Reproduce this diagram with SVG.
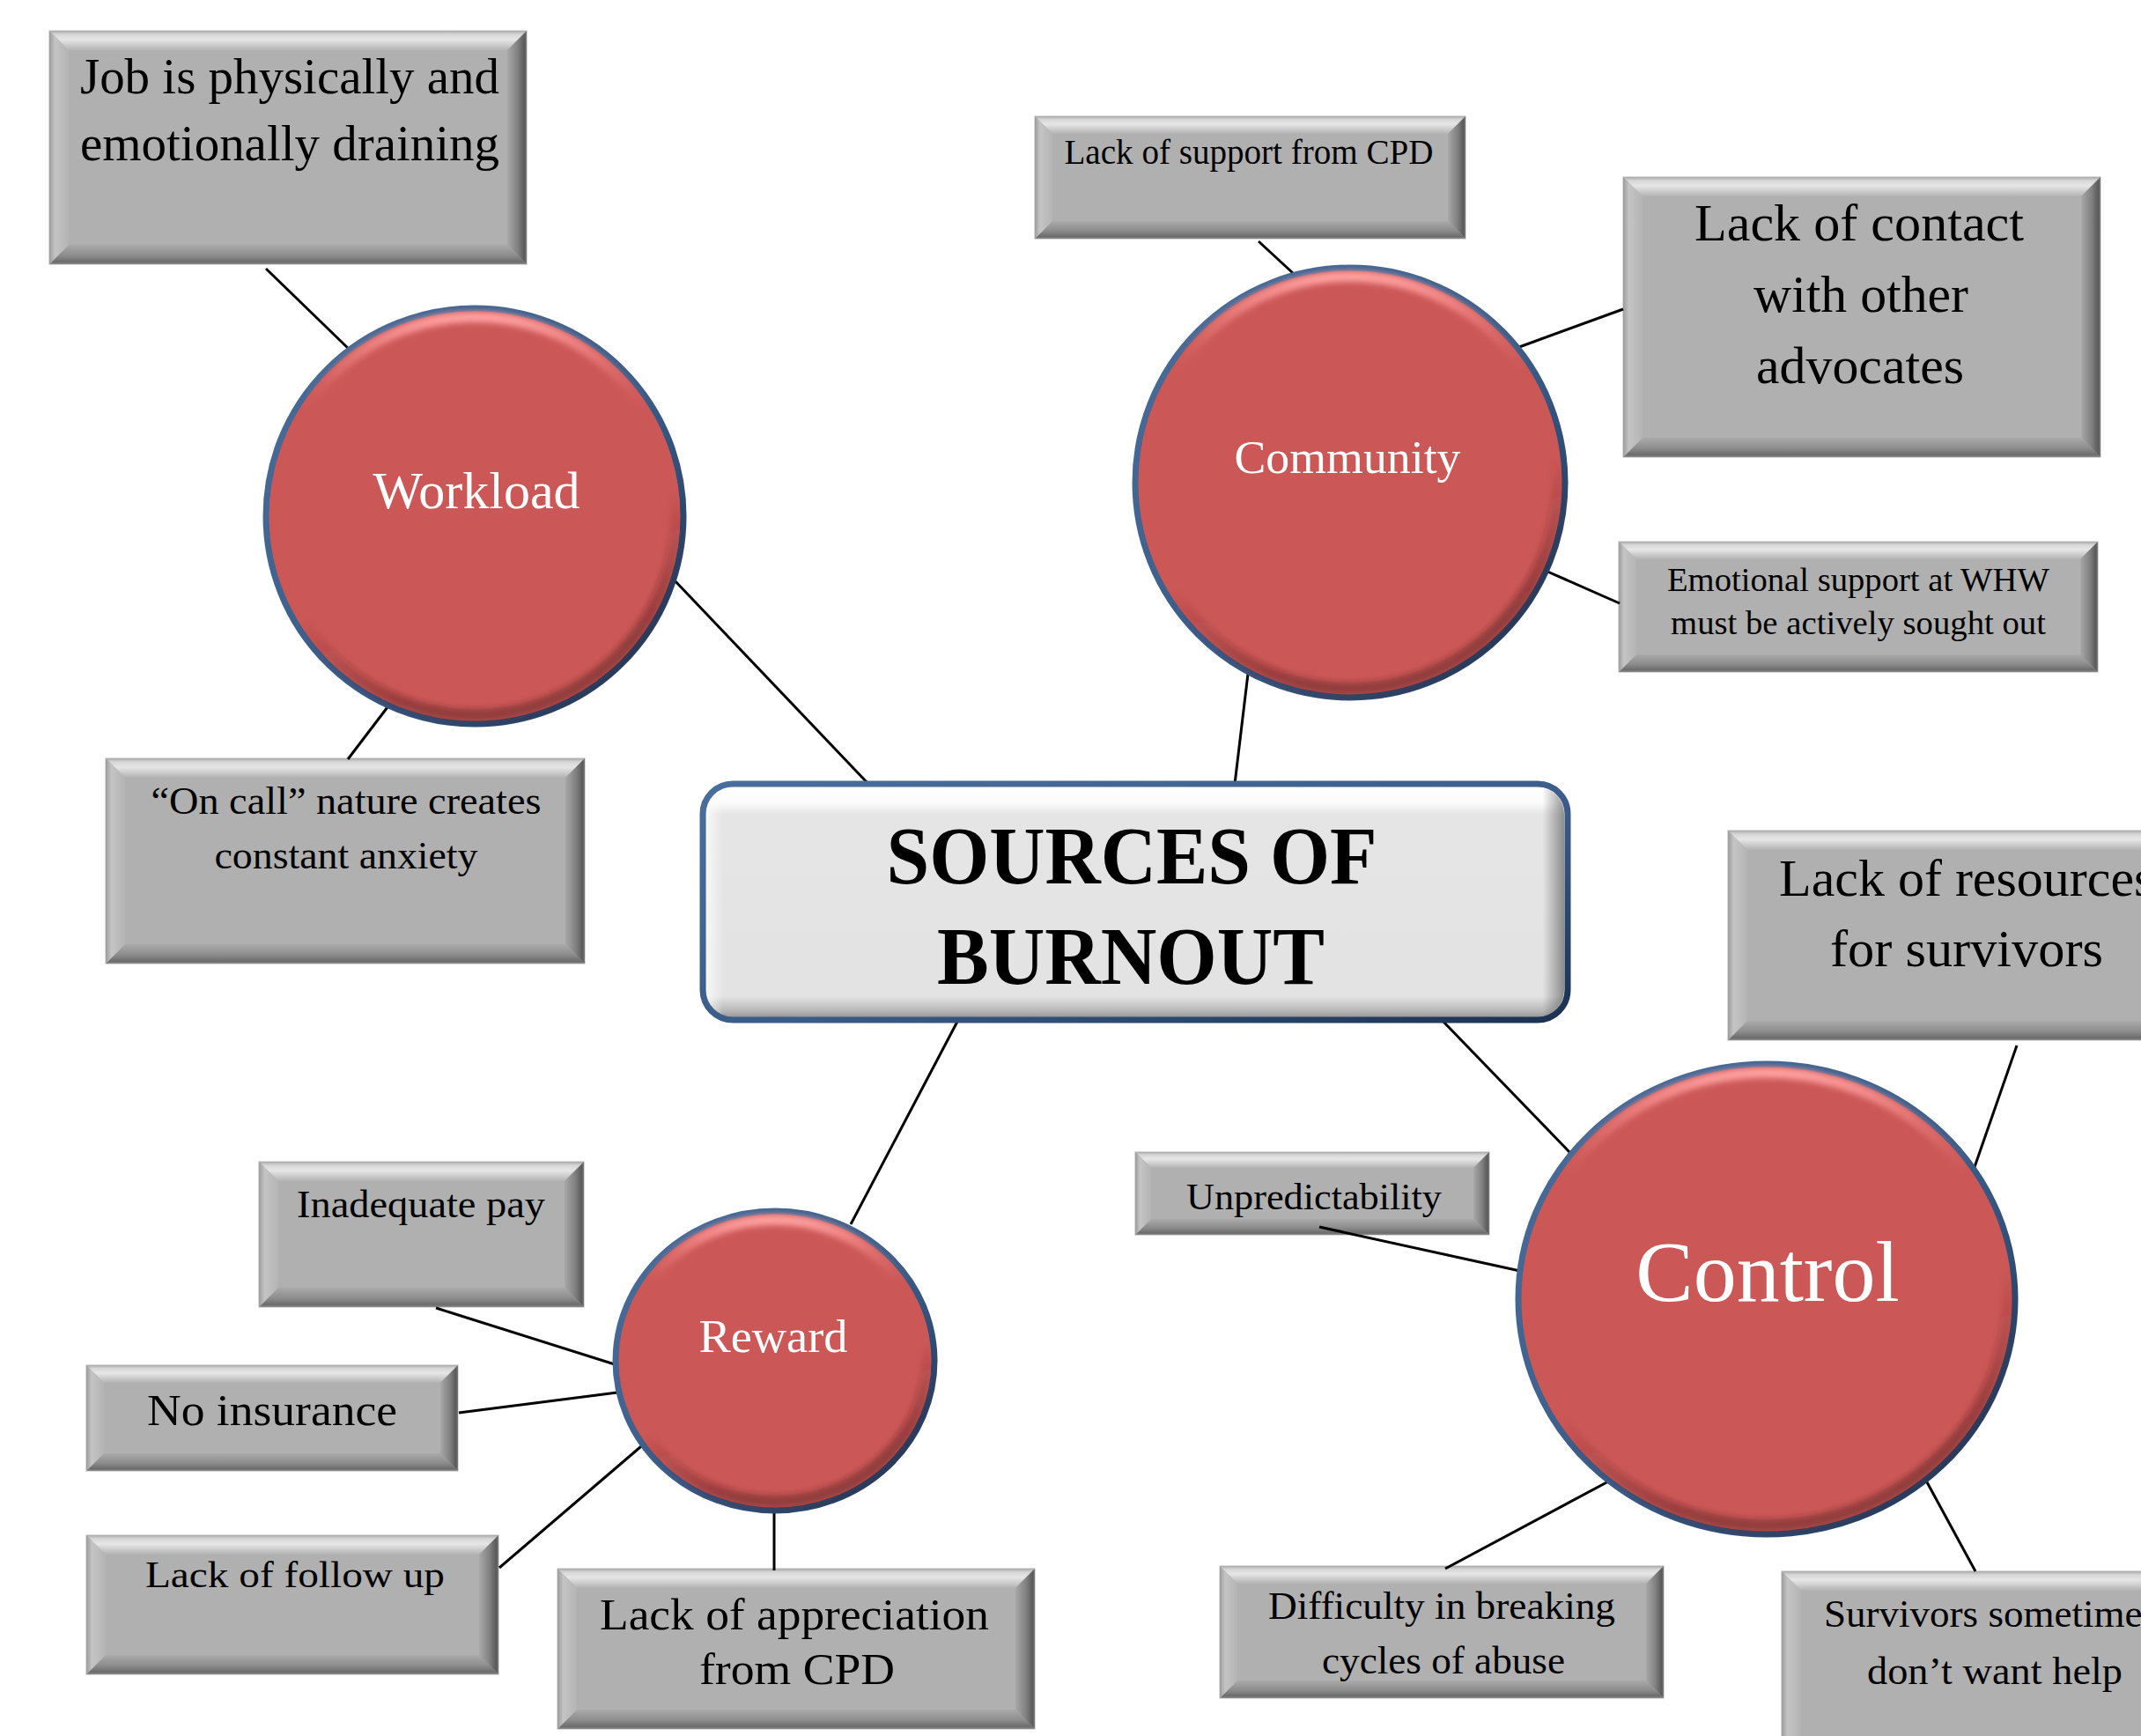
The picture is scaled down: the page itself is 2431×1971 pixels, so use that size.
<svg xmlns="http://www.w3.org/2000/svg" width="2431" height="1971" viewBox="0 0 2431 1971">
<defs>
<linearGradient id="gT" x1="0" y1="0" x2="0" y2="1"><stop offset="0" stop-color="#a9a9a9"/><stop offset="0.18" stop-color="#d6d6d6"/><stop offset="0.45" stop-color="#e6e6e6"/><stop offset="1" stop-color="#b3b3b3"/></linearGradient>
<linearGradient id="gB" x1="0" y1="0" x2="0" y2="1"><stop offset="0" stop-color="#aaaaaa"/><stop offset="0.55" stop-color="#8c8c8c"/><stop offset="0.88" stop-color="#6c6c6c"/><stop offset="1" stop-color="#8e8e8e"/></linearGradient>
<linearGradient id="gL" x1="0" y1="0" x2="1" y2="0"><stop offset="0" stop-color="#9c9c9c"/><stop offset="0.3" stop-color="#c4c4c4"/><stop offset="1" stop-color="#b4b4b4"/></linearGradient>
<linearGradient id="gR" x1="0" y1="0" x2="1" y2="0"><stop offset="0" stop-color="#a8a8a8"/><stop offset="0.55" stop-color="#808080"/><stop offset="0.88" stop-color="#5a5a5a"/><stop offset="1" stop-color="#7c7c7c"/></linearGradient>
<linearGradient id="cBD" x1="0" y1="0" x2="1" y2="1"><stop offset="0" stop-color="#4a6e9c"/><stop offset="0.55" stop-color="#3b5c88"/><stop offset="1" stop-color="#1b3150"/></linearGradient>
<linearGradient id="cHL" x1="0" y1="0" x2="0" y2="1"><stop offset="0" stop-color="#ffa0a0" stop-opacity="1"/><stop offset="0.08" stop-color="#f48888" stop-opacity="0.75"/><stop offset="0.22" stop-color="#e07070" stop-opacity="0"/></linearGradient>
<linearGradient id="cSH" x1="0" y1="0" x2="0.35" y2="1"><stop offset="0.7" stop-color="#5a1e20" stop-opacity="0"/><stop offset="1" stop-color="#5a1e20" stop-opacity="0.5"/></linearGradient>
<linearGradient id="ctrF" x1="0" y1="0" x2="0" y2="1"><stop offset="0" stop-color="#ffffff"/><stop offset="0.08" stop-color="#fbfbfb"/><stop offset="0.13" stop-color="#e5e5e5"/><stop offset="0.9" stop-color="#e3e3e3"/><stop offset="0.96" stop-color="#b8b8b8"/><stop offset="1" stop-color="#8a8a8a"/></linearGradient>
<linearGradient id="ctrS" x1="0" y1="0" x2="1" y2="0"><stop offset="0" stop-color="#ffffff" stop-opacity="0.7"/><stop offset="0.02" stop-color="#ffffff" stop-opacity="0"/><stop offset="0.975" stop-color="#333333" stop-opacity="0"/><stop offset="1" stop-color="#333333" stop-opacity="0.5"/></linearGradient>
<filter id="soft" x="-10%" y="-10%" width="120%" height="120%"><feGaussianBlur stdDeviation="3"/></filter>
<style>
.face{fill:#b0b0b0;stroke:#cfcfcf;stroke-width:1.5}
.bt{fill:url(#gT)}.bb{fill:url(#gB)}.bl{fill:url(#gL)}.br{fill:url(#gR)}
.circ{fill:#cb5857;stroke:url(#cBD);stroke-width:7}
.hl{fill:none;stroke:url(#cHL);stroke-width:12;filter:url(#soft)}
.sh{fill:none;stroke:url(#cSH);stroke-width:14;filter:url(#soft)}
.conn line{stroke:#000;stroke-width:3}
.t{font-family:"Liberation Serif","Times New Roman",serif;fill:#000}
.w{font-family:"Liberation Serif","Times New Roman",serif;fill:#fff}
.c{text-anchor:middle}
</style>
</defs>
<rect width="2431" height="1971" fill="#ffffff"/>

<g id="job">
<rect class="face" x="56" y="35" width="542" height="265"/>
<polygon class="bt" points="56,35 598,35 576,57 78,57"/>
<polygon class="bb" points="56,300 598,300 576,278 78,278"/>
<polygon class="bl" points="56,35 78,57 78,278 56,300"/>
<polygon class="br" points="598,35 576,57 576,278 598,300"/>
<text class="t c" x="329" y="106" font-size="57" textLength="476" lengthAdjust="spacingAndGlyphs">Job is physically and</text>
<text class="t c" x="329" y="182" font-size="57" textLength="476" lengthAdjust="spacingAndGlyphs">emotionally draining</text>
</g>

<g id="oncall">
<rect class="face" x="120" y="861" width="544" height="233"/>
<polygon class="bt" points="120,861 664,861 642,883 142,883"/>
<polygon class="bb" points="120,1094 664,1094 642,1072 142,1072"/>
<polygon class="bl" points="120,861 142,883 142,1072 120,1094"/>
<polygon class="br" points="664,861 642,883 642,1072 664,1094"/>
<text class="t c" x="393" y="924" font-size="44" textLength="443" lengthAdjust="spacingAndGlyphs">“On call”  nature  creates</text>
<text class="t c" x="393" y="986" font-size="44" textLength="299" lengthAdjust="spacingAndGlyphs">constant  anxiety</text>
</g>

<g id="cpd">
<rect class="face" x="1175" y="132" width="489" height="139"/>
<polygon class="bt" points="1175,132 1664,132 1644,152 1195,152"/>
<polygon class="bb" points="1175,271 1664,271 1644,251 1195,251"/>
<polygon class="bl" points="1175,132 1195,152 1195,251 1175,271"/>
<polygon class="br" points="1664,132 1644,152 1644,251 1664,271"/>
<text class="t c" x="1418" y="186" font-size="39" textLength="419" lengthAdjust="spacingAndGlyphs">Lack of support from CPD</text>
</g>

<g id="contact">
<rect class="face" x="1843" y="201" width="542" height="318"/>
<polygon class="bt" points="1843,201 2385,201 2363,223 1865,223"/>
<polygon class="bb" points="1843,519 2385,519 2363,497 1865,497"/>
<polygon class="bl" points="1843,201 1865,223 1865,497 1843,519"/>
<polygon class="br" points="2385,201 2363,223 2363,497 2385,519"/>
<text class="t c" x="2111" y="273" font-size="59" textLength="374" lengthAdjust="spacingAndGlyphs">Lack of contact</text>
<text class="t c" x="2113" y="354" font-size="59" textLength="244" lengthAdjust="spacingAndGlyphs">with other</text>
<text class="t c" x="2112" y="435" font-size="59" textLength="236" lengthAdjust="spacingAndGlyphs">advocates</text>
</g>

<g id="emotional">
<rect class="face" x="1838" y="615" width="544" height="148"/>
<polygon class="bt" points="1838,615 2382,615 2362,635 1858,635"/>
<polygon class="bb" points="1838,763 2382,763 2362,743 1858,743"/>
<polygon class="bl" points="1838,615 1858,635 1858,743 1838,763"/>
<polygon class="br" points="2382,615 2362,635 2362,743 2382,763"/>
<text class="t c" x="2110" y="671" font-size="38" textLength="434" lengthAdjust="spacingAndGlyphs">Emotional  support at WHW</text>
<text class="t c" x="2110" y="720" font-size="38" textLength="426" lengthAdjust="spacingAndGlyphs">must  be actively  sought out</text>
</g>

<g id="resources">
<rect class="face" x="1962" y="943" width="600" height="238"/>
<polygon class="bt" points="1962,943 2562,943 2540,965 1984,965"/>
<polygon class="bb" points="1962,1181 2562,1181 2540,1159 1984,1159"/>
<polygon class="bl" points="1962,943 1984,965 1984,1159 1962,1181"/>
<text class="t" x="2020" y="1017" font-size="60">Lack of resources</text>
<text class="t" x="2078" y="1097" font-size="60" textLength="310" lengthAdjust="spacingAndGlyphs">for survivors</text>
</g>

<g id="unpredictability">
<rect class="face" x="1289" y="1308" width="402" height="94"/>
<polygon class="bt" points="1289,1308 1691,1308 1673,1326 1307,1326"/>
<polygon class="bb" points="1289,1402 1691,1402 1673,1384 1307,1384"/>
<polygon class="bl" points="1289,1308 1307,1326 1307,1384 1289,1402"/>
<polygon class="br" points="1691,1308 1673,1326 1673,1384 1691,1402"/>
<text class="t c" x="1492" y="1373" font-size="43" textLength="290" lengthAdjust="spacingAndGlyphs">Unpredictability</text>
</g>

<g id="difficulty">
<rect class="face" x="1385" y="1778" width="504" height="150"/>
<polygon class="bt" points="1385,1778 1889,1778 1869,1798 1405,1798"/>
<polygon class="bb" points="1385,1928 1889,1928 1869,1908 1405,1908"/>
<polygon class="bl" points="1385,1778 1405,1798 1405,1908 1385,1928"/>
<polygon class="br" points="1889,1778 1869,1798 1869,1908 1889,1928"/>
<text class="t c" x="1637" y="1838" font-size="44" textLength="394" lengthAdjust="spacingAndGlyphs">Difficulty  in breaking</text>
<text class="t c" x="1639" y="1900" font-size="44" textLength="276" lengthAdjust="spacingAndGlyphs">cycles of abuse</text>
</g>

<g id="survivors">
<rect class="face" x="2023" y="1784" width="600" height="300"/>
<polygon class="bt" points="2023,1784 2623,1784 2601,1806 2045,1806"/>
<polygon class="bl" points="2023,1784 2045,1806 2045,2084 2023,2084"/>
<text class="t" x="2071" y="1847" font-size="45" textLength="379" lengthAdjust="spacingAndGlyphs">Survivors  sometimes</text>
<text class="t" x="2120" y="1912" font-size="45" textLength="290" lengthAdjust="spacingAndGlyphs">don’t  want  help</text>
</g>

<g id="inadequate">
<rect class="face" x="294" y="1319" width="369" height="165"/>
<polygon class="bt" points="294,1319 663,1319 641,1341 316,1341"/>
<polygon class="bb" points="294,1484 663,1484 641,1462 316,1462"/>
<polygon class="bl" points="294,1319 316,1341 316,1462 294,1484"/>
<polygon class="br" points="663,1319 641,1341 641,1462 663,1484"/>
<text class="t c" x="478" y="1382" font-size="44" textLength="282" lengthAdjust="spacingAndGlyphs">Inadequate  pay</text>
</g>

<g id="insurance">
<rect class="face" x="98" y="1550" width="422" height="120"/>
<polygon class="bt" points="98,1550 520,1550 500,1570 118,1570"/>
<polygon class="bb" points="98,1670 520,1670 500,1650 118,1650"/>
<polygon class="bl" points="98,1550 118,1570 118,1650 98,1670"/>
<polygon class="br" points="520,1550 500,1570 500,1650 520,1670"/>
<text class="t c" x="309" y="1618" font-size="50" textLength="284" lengthAdjust="spacingAndGlyphs">No insurance</text>
</g>

<g id="followup">
<rect class="face" x="98" y="1743" width="468" height="158"/>
<polygon class="bt" points="98,1743 566,1743 544,1765 120,1765"/>
<polygon class="bb" points="98,1901 566,1901 544,1879 120,1879"/>
<polygon class="bl" points="98,1743 120,1765 120,1879 98,1901"/>
<polygon class="br" points="566,1743 544,1765 544,1879 566,1901"/>
<text class="t c" x="335" y="1802" font-size="43" textLength="340" lengthAdjust="spacingAndGlyphs">Lack  of follow  up</text>
</g>

<g id="appreciation">
<rect class="face" x="633" y="1781" width="542" height="182"/>
<polygon class="bt" points="633,1781 1175,1781 1153,1803 655,1803"/>
<polygon class="bb" points="633,1963 1175,1963 1153,1941 655,1941"/>
<polygon class="bl" points="633,1781 655,1803 655,1941 633,1963"/>
<polygon class="br" points="1175,1781 1153,1803 1153,1941 1175,1963"/>
<text class="t c" x="902" y="1850" font-size="50" textLength="442" lengthAdjust="spacingAndGlyphs">Lack of appreciation</text>
<text class="t c" x="905" y="1912" font-size="50" textLength="222" lengthAdjust="spacingAndGlyphs">from CPD</text>
</g>

<g id="connectors" class="conn">
<line x1="302" y1="305" x2="400" y2="400"/>
<line x1="446" y1="795" x2="395" y2="862"/>
<line x1="765" y1="658" x2="986" y2="890"/>
<line x1="1429" y1="274" x2="1468" y2="310"/>
<line x1="1725" y1="394" x2="1843" y2="351"/>
<line x1="1755" y1="648" x2="1839" y2="685"/>
<line x1="1417" y1="765" x2="1402" y2="890"/>
<line x1="1088" y1="1158" x2="966" y2="1390"/>
<line x1="1637" y1="1158" x2="1784" y2="1310"/>
<line x1="2290" y1="1187" x2="2242" y2="1325"/>
<line x1="1498" y1="1393" x2="1726" y2="1443"/>
<line x1="1845" y1="1672" x2="1641" y2="1781"/>
<line x1="2181" y1="1670" x2="2243" y2="1784"/>
<line x1="495" y1="1485" x2="701" y2="1550"/>
<line x1="521" y1="1604" x2="701" y2="1581"/>
<line x1="567" y1="1780" x2="734" y2="1637"/>
<line x1="879" y1="1712" x2="879" y2="1783"/>
</g>

<g id="workload">
<ellipse class="circ" cx="539" cy="586" rx="237" ry="236"/>
<ellipse class="hl" cx="539" cy="588" rx="229" ry="228"/>
<ellipse class="sh" cx="539" cy="584" rx="229" ry="228"/>
<text class="w c" x="541" y="577" font-size="60">Workload</text>
</g>

<g id="community">
<ellipse class="circ" cx="1533" cy="548" rx="244" ry="244"/>
<ellipse class="hl" cx="1533" cy="550" rx="236" ry="236"/>
<ellipse class="sh" cx="1533" cy="546" rx="236" ry="236"/>
<text class="w c" x="1530" y="537" font-size="53" textLength="257" lengthAdjust="spacingAndGlyphs">Community</text>
</g>

<g id="reward">
<ellipse class="circ" cx="880" cy="1545" rx="181" ry="170"/>
<ellipse class="hl" cx="880" cy="1547" rx="173" ry="162"/>
<ellipse class="sh" cx="880" cy="1543" rx="173" ry="162"/>
<text class="w c" x="878" y="1535" font-size="53" textLength="169" lengthAdjust="spacingAndGlyphs">Reward</text>
</g>

<g id="control">
<ellipse class="circ" cx="2006" cy="1475" rx="282" ry="267"/>
<ellipse class="hl" cx="2006" cy="1477" rx="274" ry="259"/>
<ellipse class="sh" cx="2006" cy="1473" rx="274" ry="259"/>
<text class="w c" x="2007" y="1477" font-size="98">Control</text>
</g>

<g id="center">
<rect x="798" y="890" width="982" height="268" rx="34" ry="34" fill="url(#ctrF)" stroke="url(#cBD)" stroke-width="7"/>
<rect x="802" y="894" width="974" height="260" rx="30" ry="30" fill="url(#ctrS)"/>
<text class="t c" x="1285" y="1003" font-size="94" font-weight="bold" textLength="557" lengthAdjust="spacingAndGlyphs">SOURCES OF</text>
<text class="t c" x="1284" y="1117" font-size="94" font-weight="bold" textLength="440" lengthAdjust="spacingAndGlyphs">BURNOUT</text>
</g>
</svg>
